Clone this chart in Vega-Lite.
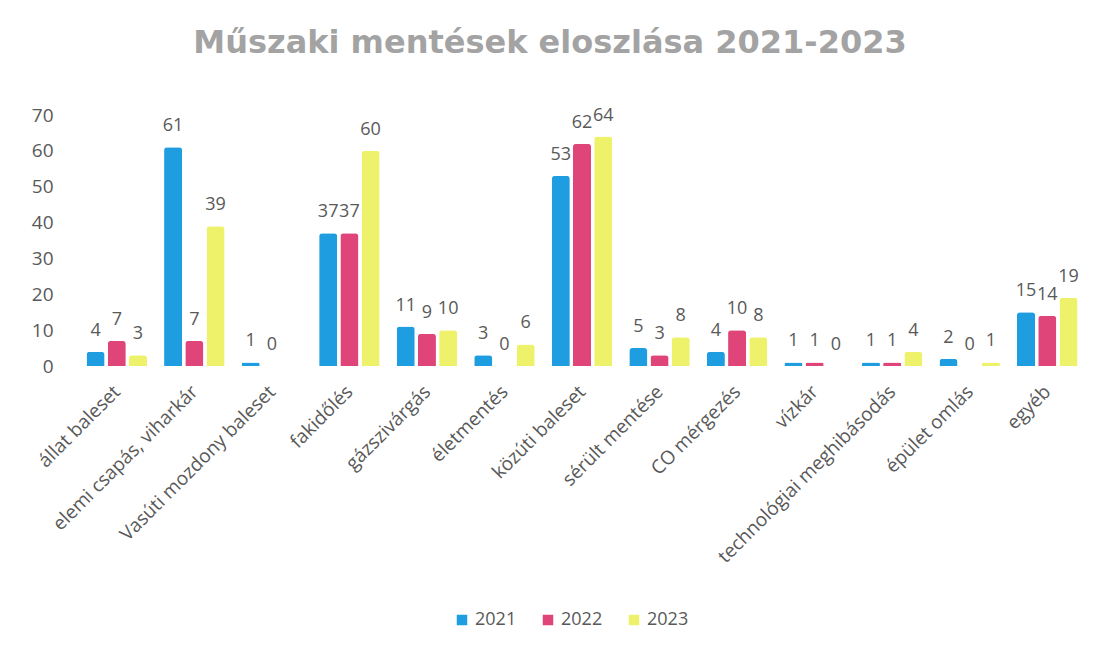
{
  "$schema": "https://vega.github.io/schema/vega-lite/v6.json",
  "autosize": {"type": "none"},
  "width": 1008,
  "height": 251,
  "padding": {"left": 78, "top": 115, "right": 19, "bottom": 287},
  "background": "white",
  "title": {
    "text": "Műszaki mentések eloszlása 2021-2023",
    "font": "DejaVu Sans",
    "fontSize": 32,
    "fontWeight": "bold",
    "color": "#a3a3a3",
    "anchor": "middle",
    "dx": -32,
    "offset": 46
  },
  "data": {
    "values": [
      {"cat": "állat baleset", "year": "2021", "value": 4},
      {"cat": "állat baleset", "year": "2022", "value": 7},
      {"cat": "állat baleset", "year": "2023", "value": 3},
      {"cat": "elemi csapás, viharkár", "year": "2021", "value": 61},
      {"cat": "elemi csapás, viharkár", "year": "2022", "value": 7},
      {"cat": "elemi csapás, viharkár", "year": "2023", "value": 39},
      {"cat": "Vasúti mozdony baleset", "year": "2021", "value": 1},
      {"cat": "Vasúti mozdony baleset", "year": "2022", "value": 0},
      {"cat": "Vasúti mozdony baleset", "year": "2023", "value": null},
      {"cat": "fakidőlés", "year": "2021", "value": 37},
      {"cat": "fakidőlés", "year": "2022", "value": 37},
      {"cat": "fakidőlés", "year": "2023", "value": 60},
      {"cat": "gázszivárgás", "year": "2021", "value": 11},
      {"cat": "gázszivárgás", "year": "2022", "value": 9},
      {"cat": "gázszivárgás", "year": "2023", "value": 10},
      {"cat": "életmentés", "year": "2021", "value": 3},
      {"cat": "életmentés", "year": "2022", "value": 0},
      {"cat": "életmentés", "year": "2023", "value": 6},
      {"cat": "közúti baleset", "year": "2021", "value": 53},
      {"cat": "közúti baleset", "year": "2022", "value": 62},
      {"cat": "közúti baleset", "year": "2023", "value": 64},
      {"cat": "sérült mentése", "year": "2021", "value": 5},
      {"cat": "sérült mentése", "year": "2022", "value": 3},
      {"cat": "sérült mentése", "year": "2023", "value": 8},
      {"cat": "CO mérgezés", "year": "2021", "value": 4},
      {"cat": "CO mérgezés", "year": "2022", "value": 10},
      {"cat": "CO mérgezés", "year": "2023", "value": 8},
      {"cat": "vízkár", "year": "2021", "value": 1},
      {"cat": "vízkár", "year": "2022", "value": 1},
      {"cat": "vízkár", "year": "2023", "value": 0},
      {"cat": "technológiai meghibásodás", "year": "2021", "value": 1},
      {"cat": "technológiai meghibásodás", "year": "2022", "value": 1},
      {"cat": "technológiai meghibásodás", "year": "2023", "value": 4},
      {"cat": "épület omlás", "year": "2021", "value": 2},
      {"cat": "épület omlás", "year": "2022", "value": 0},
      {"cat": "épület omlás", "year": "2023", "value": 1},
      {"cat": "egyéb", "year": "2021", "value": 15},
      {"cat": "egyéb", "year": "2022", "value": 14},
      {"cat": "egyéb", "year": "2023", "value": 19}
    ]
  },
  "encoding": {
    "x": {
      "field": "cat",
      "type": "nominal",
      "sort": null,
      "title": null,
      "scale": {"paddingInner": 0.22, "paddingOuter": 0.11},
      "axis": {
        "labelAngle": -45,
        "labelFont": "Open Sans",
        "labelFontSize": 19,
        "labelColor": "#595959",
        "labelPadding": 16,
        "labelOffset": -6,
        "labelLimit": 0,
        "domain": false,
        "ticks": false
      }
    },
    "xOffset": {"field": "year", "type": "nominal", "scale": {"paddingInner": 0.15}},
    "y": {
      "field": "value",
      "type": "quantitative",
      "title": null,
      "scale": {"domain": [0, 70]},
      "axis": {
        "values": [0, 10, 20, 30, 40, 50, 60, 70],
        "grid": false,
        "domain": false,
        "ticks": false,
        "labelFont": "Open Sans",
        "labelFontSize": 19,
        "labelColor": "#595959",
        "labelPadding": 25
      }
    }
  },
  "layer": [
    {
      "mark": {"type": "bar", "cornerRadiusTopLeft": 3, "cornerRadiusTopRight": 3},
      "encoding": {
        "color": {
          "field": "year",
          "type": "nominal",
          "title": null,
          "scale": {"domain": ["2021", "2022", "2023"], "range": ["#1e9ee0", "#e0457a", "#eef26a"]},
          "legend": {
            "orient": "none",
            "legendX": 375,
            "legendY": 496,
            "direction": "horizontal",
            "symbolType": "square",
            "symbolSize": 110,
            "labelFont": "Open Sans",
            "labelFontSize": 18,
            "labelColor": "#595959",
            "columnPadding": 22
          }
        }
      }
    },
    {
      "transform": [{"filter": "datum.value != null"}],
      "mark": {"type": "text", "baseline": "bottom", "dy": -12, "font": "Open Sans", "fontSize": 18, "color": "#595959"},
      "encoding": {"text": {"field": "value", "type": "quantitative"}}
    }
  ],
  "config": {"view": {"stroke": null}}
}
